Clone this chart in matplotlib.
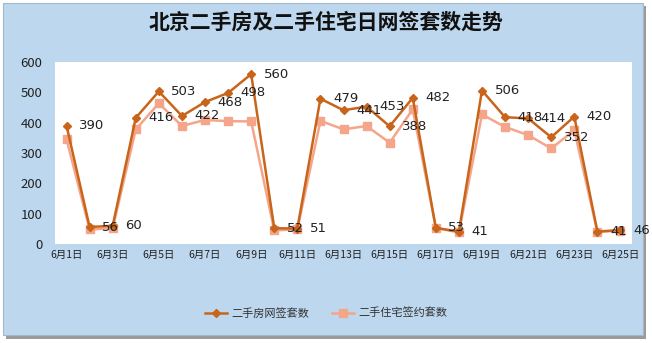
import matplotlib
matplotlib.use("Agg")
from matplotlib import pyplot as plt
from matplotlib.patches import Rectangle

plt.rcParams['font.family'] = ['Noto Sans CJK SC', 'DejaVu Sans']

# daily data for June
days = list(range(1, 26))
day_labels = ["6月%d日" % d for d in days]
online_signed = [390, 56, 60, 416, 503, 422, 468, 498, 560, 52, 51, 479, 441,
                 453, 388, 482, 53, 41, 506, 418, 414, 352, 420, 41, 46]
residential_signed = [345, 48, 52, 378, 464, 389, 409, 405, 404, 45, 48, 406, 378,
                      389, 334, 444, 53, 38, 427, 386, 359, 315, 375, 40, 44]

W, H = 652, 343
fig = plt.figure(figsize=(W / 100, H / 100), dpi=100, facecolor="white")

# chart panel with a drop shadow
fig.patches.append(Rectangle((6 / W, 1 - 339 / H), 640 / W, 333 / H,
                             transform=fig.transFigure, facecolor="#9a9a9a",
                             edgecolor="none", zorder=-2))
fig.patches.append(Rectangle((3 / W, 1 - 335 / H), 640 / W, 332 / H,
                             transform=fig.transFigure, facecolor="#bdd7ee",
                             edgecolor="#a6b8c8", linewidth=0.8, zorder=-1))

ax = fig.add_axes([55 / W, 1 - 244 / H, 577 / W, 182 / H])
ax.set_facecolor("white")
for s in ax.spines.values():
    s.set_visible(False)

dark = "#c8651b"
light = "#f4a58a"
ax.plot(days, residential_signed, color=light, marker="s", markersize=6,
        linewidth=1.8, label="二手住宅签约套数", zorder=3)
ax.plot(days, online_signed, color=dark, marker="D", markersize=4.5,
        linewidth=1.8, label="二手房网签套数", zorder=4)

for d, v in zip(days, online_signed):
    ax.annotate(str(v), (d, v), xytext=(9, 0), textcoords="offset points",
                ha="left", va="center", fontsize=9.5, color="#222222",
                family=["DejaVu Sans"], zorder=5)

ax.set_xlim(0.5, 25.5)
ax.set_ylim(0, 600)
ax.set_yticks(range(0, 601, 100))
ax.set_xticks(days[::2])
ax.set_xticklabels(day_labels[::2], fontsize=7.5)
ax.tick_params(axis="y", length=0, pad=9, labelsize=9.5, labelcolor="#222222")
ax.tick_params(axis="x", length=0, pad=4, labelcolor="#222222")

fig.text(0.5, 1 - 22 / H, "北京二手房及二手住宅日网签套数走势", ha="center",
         va="center", fontsize=15, fontweight="bold", color="#111111")

handles, labels = ax.get_legend_handles_labels()
fig.legend(handles[::-1], labels[::-1], loc="center", ncol=2,
           bbox_to_anchor=(0.5, 1 - 313 / H), frameon=False, fontsize=8,
           columnspacing=2, handlelength=2, handletextpad=0.4,
           labelcolor="#333333")

fig.savefig("out.png", dpi=100, facecolor="white")
